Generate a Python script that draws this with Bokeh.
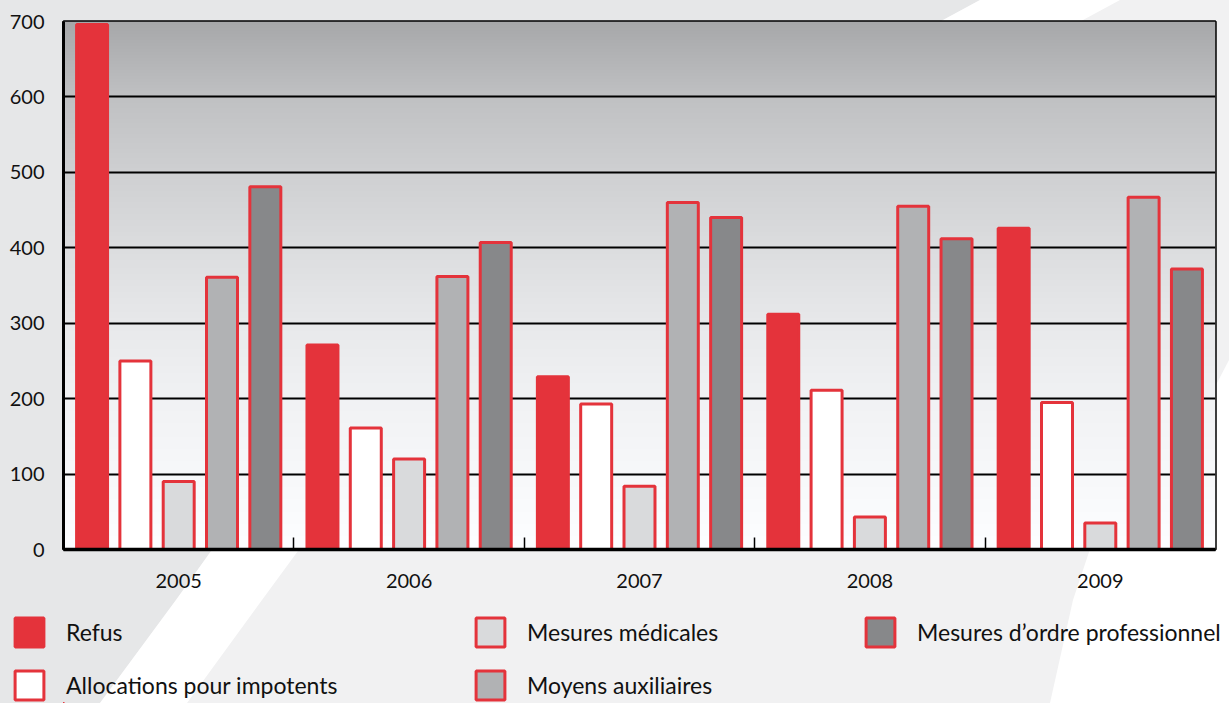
import numpy as np
from urllib.parse import quote
from bokeh.plotting import figure
from bokeh.layouts import column
from bokeh.models import FixedTicker, Legend, LegendItem, Range1d
from bokeh.embed import file_html
from bokeh.resources import INLINE

# ---------------- data ----------------
years = ["2005", "2006", "2007", "2008", "2009"]
refus = [696, 271, 229, 312, 426]
allocations = [250, 161, 193, 211, 195]
medicales = [90, 120, 84, 43, 35]
moyens = [361, 362, 460, 455, 467]
professionnel = [481, 407, 440, 412, 372]
series_names = ["Refus", "Allocations pour impotents", "Mesures médicales",
                "Moyens auxiliaires", "Mesures d’ordre professionnel"]
y_ticks = [0, 100, 200, 300, 400, 500, 600, 700]

# ---------------- styles ----------------
RED = "#e4333b"
fills = [RED, "#ffffff", "#d9dadc", "#b1b2b4", "#87888a"]
FONT = "Lato"
W, H = 1229, 703
FL, FR, FT = 63, 14, 21
FRAME_H = 528
MAIN_H = FT + FRAME_H + 54      # main chart incl. year labels
LEG_H = H - MAIN_H              # legend strip below

# page background decoration (pixel coords)
def pts(lst):
    return " ".join(f"{x},{y}" for x, y in lst)

grey_poly = [(0, 0), (980, 0), (943, 20), (219, 540), (176, 600), (100, 703), (0, 703)]
band_poly = [(980, 0), (943, 20), (219, 540), (176, 600), (100, 703), (187, 703),
             (262, 600), (306, 540), (1083, 20), (1120, 0)]
right_poly = [(1229, 360), (1217, 383), (1093, 540), (1073, 600), (1050, 703), (1229, 703)]
svg_bg = (f'<svg xmlns="http://www.w3.org/2000/svg" width="{W}" height="{H}">'
          f'<rect width="{W}" height="{H}" fill="#f1f1f2"/>'
          f'<polygon points="{pts(grey_poly)}" fill="#e6e7e8"/>'
          f'<polygon points="{pts(band_poly)}" fill="#ffffff"/>'
          f'<polygon points="{pts(right_poly)}" fill="#ffffff"/>'
          f'</svg>')
bg_url = 'url("data:image/svg+xml;utf8,' + quote(svg_bg) + '")'

def bg_styles(offset_y):
    return {"background-image": bg_url, "background-size": f"{W}px {H}px",
            "background-repeat": "no-repeat",
            "background-position": f"0px {-offset_y}px"}

# ---------------- main chart ----------------
p = figure(frame_width=W - FL - FR, frame_height=FRAME_H,
           x_range=Range1d(0, len(years)), y_range=Range1d(0, 700),
           output_backend="svg", toolbar_location=None,
           min_border_left=FL, min_border_right=FR,
           min_border_top=FT, min_border_bottom=MAIN_H - FT - FRAME_H)
p.border_fill_color = None
p.background_fill_color = None
p.styles = bg_styles(0)

# plot-area vertical gradient (decoration)
knots_v = [0, 100, 200, 300, 400, 500, 600, 700]
knots_g = [254, 248, 242, 233, 221, 208, 193, 168]
NR = 350
vals = np.linspace(0, 700, NR)
g = np.interp(vals, knots_v, knots_g)
img = np.empty((NR, 2), dtype=np.uint32)
view = img.view(dtype=np.uint8).reshape((NR, 2, 4))
view[:, :, 0] = np.clip(g - 1, 0, 255)[:, None]
view[:, :, 1] = np.clip(g, 0, 255)[:, None]
view[:, :, 2] = np.clip(g + 2, 0, 255)[:, None]
view[:, :, 3] = 255
bg = p.image_rgba(image=[img], x=0, y=0, dw=len(years), dh=700)
bg.level = "image"

# bars
series = [refus, allocations, medicales, moyens, professionnel]
pitch = 0.188
bw = 0.1345
for k, vals_k in enumerate(series):
    xs = np.arange(len(years)) + 0.5 + (k - 2) * pitch
    p.vbar(x=xs, top=vals_k, bottom=0, width=bw,
           fill_color=fills[k], line_color=RED, line_width=3)

# axes
p.xgrid.visible = False
p.ygrid.ticker = FixedTicker(ticks=y_ticks)
p.ygrid.grid_line_color = "black"
p.ygrid.grid_line_width = 2

centers = [i + 0.5 for i in range(len(years))]
p.xaxis.ticker = FixedTicker(ticks=centers, minor_ticks=[1, 2, 3, 4])
p.xaxis.major_label_overrides = {c: y for c, y in zip(centers, years)}
p.xaxis.major_tick_in = 0
p.xaxis.major_tick_out = 0
p.xaxis.minor_tick_in = 12
p.xaxis.minor_tick_out = 0
p.xaxis.minor_tick_line_color = "black"
p.xaxis.minor_tick_line_width = 1.5
p.xaxis.axis_line_color = "black"
p.xaxis.axis_line_width = 3.5
p.xaxis.major_label_standoff = 24

p.yaxis.ticker = FixedTicker(ticks=y_ticks)
p.yaxis.major_tick_in = 0
p.yaxis.major_tick_out = 0
p.yaxis.minor_tick_line_color = None
p.yaxis.axis_line_color = "black"
p.yaxis.axis_line_width = 3
p.yaxis.major_label_standoff = 19

for ax in (p.xaxis, p.yaxis):
    ax.major_label_text_font = FONT
    ax.major_label_text_font_size = "20px"
    ax.major_label_text_color = "#111111"

p.outline_line_color = "black"
p.outline_line_width = 2.5

# ---------------- legend strip ----------------
pl = figure(frame_width=W, frame_height=LEG_H, x_range=Range1d(0, 1), y_range=Range1d(0, 1),
            output_backend="svg", toolbar_location=None,
            x_axis_location=None, y_axis_location=None,
            min_border_left=0, min_border_right=0, min_border_top=0, min_border_bottom=0)
pl.border_fill_color = None
pl.background_fill_color = None
pl.outline_line_color = None
pl.xgrid.visible = False
pl.ygrid.visible = False
pl.styles = bg_styles(MAIN_H)

# legend-only proxies (one point each, outside the strip's visible range)
leg_renderers = [pl.vbar(x=[-5], top=[-5], bottom=[-6], width=0.1, fill_color=fills[k],
                         line_color=RED, line_width=3) for k in range(len(series))]
items = [LegendItem(label=n, renderers=[r]) for n, r in zip(series_names, leg_renderers)]
GL = 36
GAP = 17
legend_css = (".bk-grid { grid-template-columns: 461px 390px auto !important; "
              f"column-gap: 0px !important; row-gap: {GAP}px !important; }}")
box_top = 613.5 - MAIN_H
vy = LEG_H - (box_top + 2 * GL + GAP)
leg = Legend(items=items, location=(11, vy), orientation="vertical", nrows=2,
             spacing=GAP, padding=0, margin=0, border_line_color=None,
             background_fill_alpha=0, glyph_width=GL, glyph_height=GL,
             label_standoff=19, label_text_font=FONT,
             label_text_font_size="23px", label_text_color="#111111",
             stylesheets=[legend_css])
pl.add_layout(leg)

layout = column(p, pl, spacing=0)
open("out.html", "w").write(file_html(layout, INLINE))
